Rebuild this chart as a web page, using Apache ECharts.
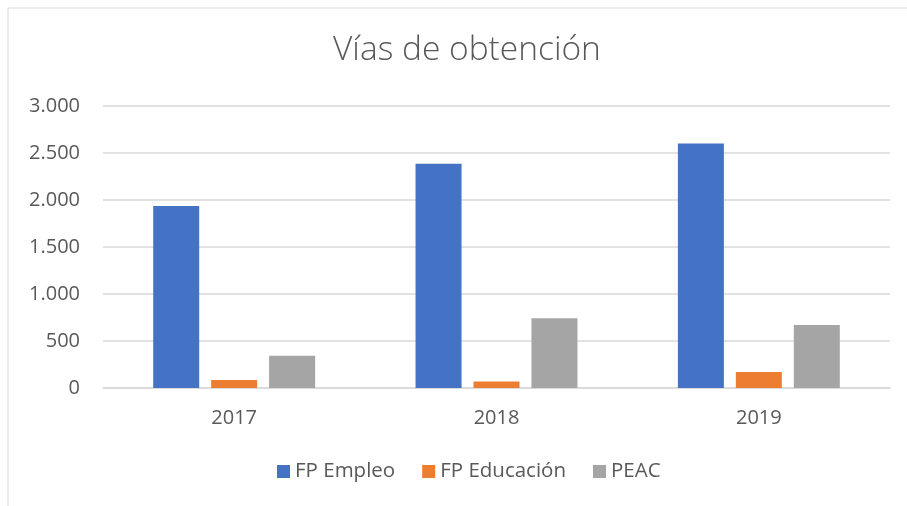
<!DOCTYPE html>
<html>
<head>
<meta charset="utf-8">
<script src="https://cdn.jsdelivr.net/npm/echarts@6/dist/echarts.min.js"></script>
<style>
  html, body { margin: 0; padding: 0; background: #fff; }
  #main { width: 907px; height: 506px; }
</style>
</head>
<body>
<div id="main"></div>
<script>
// datos del gráfico
var years = ['2017', '2018', '2019'];
var seriesNames = ['FP Empleo', 'FP Educación', 'PEAC'];
var fpEmpleo = [1935, 2385, 2600];
var fpEducacion = [85, 70, 170];
var peac = [343, 743, 669];
var colors = ['#4472C4', '#ED7D31', '#A5A5A5'];

var myChart = echarts.init(document.getElementById('main'));

function fmtMiles(v) { // 3000 -> 3.000
    return String(v).replace(/\B(?=(\d{3})+(?!\d))/g, '.');
}

var font = '"Open Sans", "Noto Sans", sans-serif';

function barSerie(name, data, idx) {
    return {
        name: name,
        type: 'bar',
        data: data,
        barWidth: 46,
        barGap: '26%',
        itemStyle: { color: colors[idx] },
        emphasis: { disabled: true }
    };
}

var options = {
    animation: false,
    color: colors,
    graphic: [{
        type: 'rect',
        shape: { x: 8, y: 8, width: 920, height: 520 },
        style: { fill: 'none', stroke: '#d9d9d9', lineWidth: 1 },
        silent: true
    }],
    title: {
        text: 'Vías de obtención',
        left: 328,
        top: 28,
        textStyle: {
            fontFamily: font,
            fontWeight: 300,
            fontSize: 33.5,
            color: '#595959'
        }
    },
    legend: {
        data: seriesNames,
        bottom: 19,
        left: 272,
        icon: 'rect',
        itemWidth: 13,
        itemHeight: 13,
        itemGap: 27,
        textStyle: { fontFamily: font, fontSize: 20.5, color: '#595959' }
    },
    grid: {
        left: 103,
        right: 17,
        top: 106,
        bottom: 118
    },
    xAxis: {
        type: 'category',
        data: years,
        axisTick: { show: false },
        axisLine: { lineStyle: { color: '#d9d9d9', width: 1.5 } },
        axisLabel: {
            margin: 20,
            fontFamily: font,
            fontSize: 20,
            color: '#595959'
        }
    },
    yAxis: {
        type: 'value',
        min: 0,
        max: 3000,
        interval: 500,
        axisLine: { show: false },
        axisTick: { show: false },
        splitLine: { lineStyle: { color: '#d9d9d9', width: 1.5 } },
        axisLabel: {
            margin: 23,
            fontFamily: font,
            fontSize: 20,
            color: '#595959',
            formatter: fmtMiles
        }
    },
    series: [
        barSerie(seriesNames[0], fpEmpleo, 0),
        barSerie(seriesNames[1], fpEducacion, 1),
        barSerie(seriesNames[2], peac, 2)
    ]
};
myChart.setOption(options);
</script>
</body>
</html>
